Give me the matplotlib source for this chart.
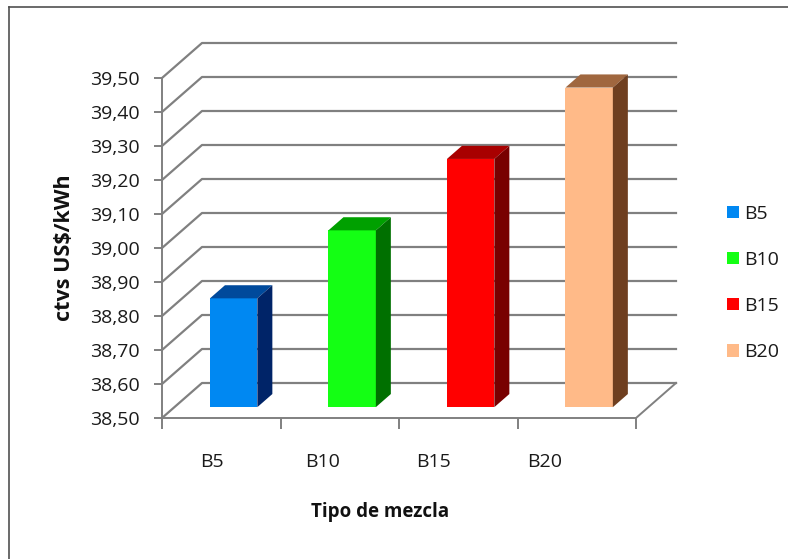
import numpy as np
import matplotlib
matplotlib.use("Agg")
import matplotlib.pyplot as plt
from matplotlib.patches import Patch
from matplotlib.lines import Line2D

# Data
categories = ["B5", "B10", "B15", "B20"]
values = [38.82, 39.02, 39.23, 39.44]
front_colors = ["#0088f2", "#14ff14", "#ff0000", "#ffba88"]
top_colors = ["#004a9c", "#00a000", "#a80000", "#a0673f"]
side_colors = ["#002468", "#007000", "#780000", "#6f3f20"]
y_ticks = [38.5, 38.6, 38.7, 38.8, 38.9, 39.0, 39.1, 39.2, 39.3, 39.4, 39.5]

plt.rcParams['font.family'] = ['Open Sans', 'DejaVu Sans']

W, H = 788, 559
fig = plt.figure(figsize=(W / 100, H / 100), dpi=100, facecolor='white')
ax = fig.add_axes([162 / W, (H - 418) / H, 474 / W, 340 / H])
ax.set_xlim(0, 4)
ax.set_ylim(38.5, 39.5)

# fake 3d depth offsets (in data units)
DX = 40 / 118.5
DY = 35 / 340
grid_col = "#808080"

# back wall grid lines + left wall diagonals
for v in y_ticks:
    ax.plot([0, DX, 4 + DX], [v, v + DY, v + DY], color=grid_col, lw=1.6,
            clip_on=False, zorder=1)
# right floor edge
ax.plot([4, 4 + DX], [38.5, 38.5 + DY], color=grid_col, lw=1.4, clip_on=False, zorder=1)

# bars
f0 = 0.31   # depth where the front face sits
bd = 0.375  # bar depth
bw = 0.4
base = y_ticks[0]
for i, v in enumerate(values):
    x0 = i + 0.5 - bw / 2 + f0 * DX
    b = base + f0 * DY
    t = v + f0 * DY
    ax.bar(x0, v - base, bottom=b, width=bw, align='edge', color=front_colors[i],
           edgecolor='none', zorder=3, clip_on=False)
    ax.fill([x0, x0 + bw, x0 + bw + bd * DX, x0 + bd * DX],
            [t, t, t + bd * DY, t + bd * DY], color=top_colors[i], lw=0,
            zorder=3, clip_on=False)
    ax.fill([x0 + bw, x0 + bw, x0 + bw + bd * DX, x0 + bw + bd * DX],
            [b, t, t + bd * DY, b + bd * DY], color=side_colors[i], lw=0,
            zorder=3, clip_on=False)

# axes styling
for s in ['top', 'right']:
    ax.spines[s].set_visible(False)
for s in ['left', 'bottom']:
    ax.spines[s].set_color(grid_col)
    ax.spines[s].set_linewidth(1.4)
ax.set_facecolor('none')
ax.set_yticks(y_ticks)
ax.set_yticklabels([f"{v:.2f}".replace(".", ",") for v in y_ticks])
ax.tick_params(axis='y', direction='out', length=6, width=1.4, color=grid_col,
               labelsize=14, pad=10, labelcolor='#1a1a1a')
ax.set_xticks([0, 1, 2, 3, 4], minor=True)
ax.set_xticks([])
ax.tick_params(axis='x', which='minor', direction='out', length=8, width=1.4,
               color=grid_col)

# category labels (Excel shifts them a bit left)
for i, c in enumerate(categories):
    ax.text(0.42 + 0.937 * i, 38.5 - 44 / 340, c, ha='center',
            va='center', fontsize=14, color='#1a1a1a')

fig.text(65 / W, 1 - 248 / H, "ctvs US$/kWh", rotation=90, ha='center', va='center',
         fontsize=15.5, fontweight='bold', color='#111111')
fig.text(380 / W, 1 - 512 / H, "Tipo de mezcla", ha='center', va='center',
         fontsize=13.5, fontweight='bold', color='#111111')

handles = [Patch(facecolor=c, edgecolor='none') for c in front_colors]
fig.legend(handles, categories, loc='center left', bbox_to_anchor=(727 / W, 1 - 283 / H),
           frameon=False, fontsize=14, labelspacing=1.45, handlelength=0.6,
           handleheight=0.6, handletextpad=0.3, borderpad=0, borderaxespad=0,
           labelcolor='#1a1a1a')

# outer frame (left and top only visible)
fig.add_artist(Line2D([9 / W, 9 / W], [0, 1 - 7 / H], color='#505050', lw=1.2))
fig.add_artist(Line2D([9 / W, 1], [1 - 7 / H, 1 - 7 / H], color='#505050', lw=1.2))

fig.savefig("out.png", dpi=100, facecolor='white')
